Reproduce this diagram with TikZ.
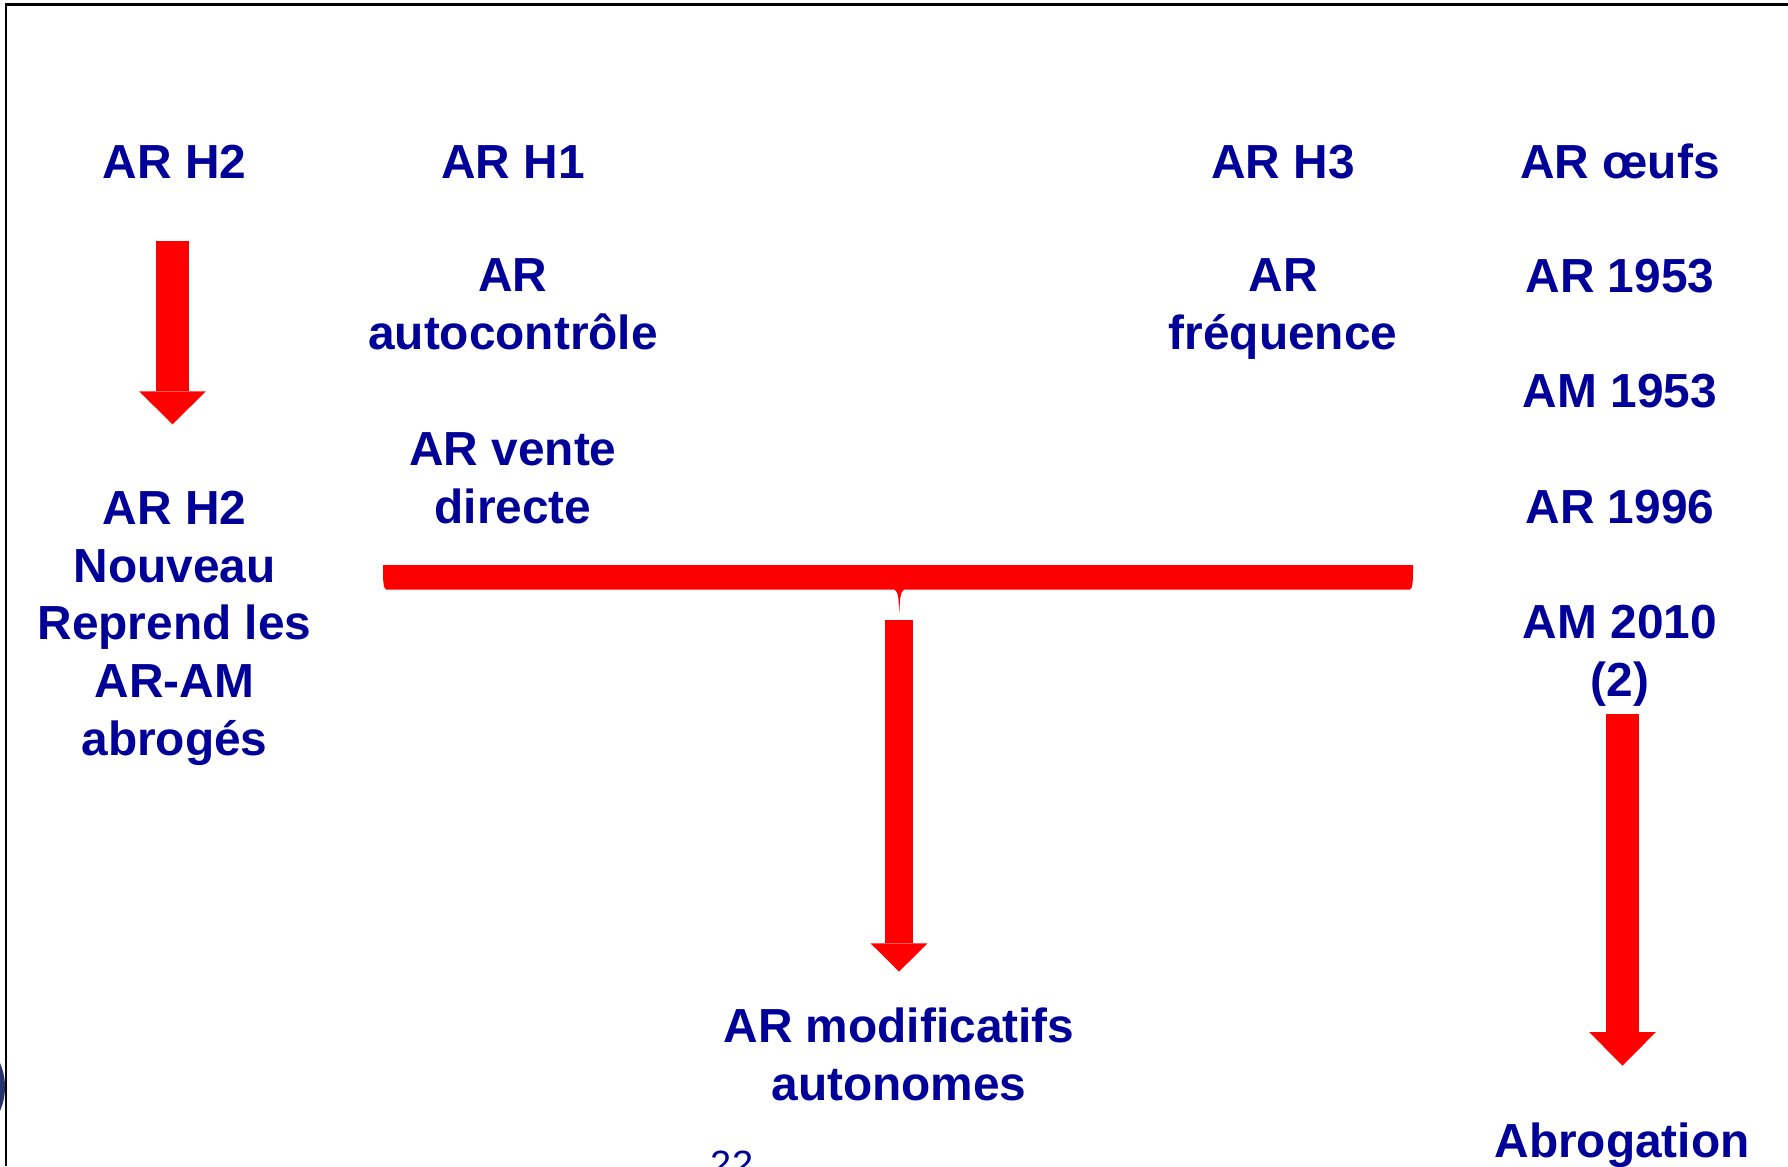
\documentclass[tikz,border=0pt]{standalone}
\usepackage{fontspec}
\setmainfont{Liberation Sans}
\usetikzlibrary{arrows.meta}
\definecolor{arblue}{RGB}{0,0,153}
\definecolor{arred}{RGB}{255,0,0}
\definecolor{logoblue}{RGB}{38,50,110}
\tikzset{lbl/.style = {text=arblue, font=\fontsize{13.6pt}{16.4pt}\selectfont\bfseries, align=center, inner sep=0pt, anchor=base}}
\tikzset{bigarrow/.style = {draw=arred, line width=0.33cm, -{Triangle[width=0.667cm, length=0.33cm, line width=0pt]}}}

\begin{document}
\begin{tikzpicture}[x=0.01cm, y=-0.01cm]
\useasboundingbox (0,0) rectangle (1788,1166);
\draw [line width=0.025cm] (6,1166) -- (6,4.5) -- (1788,4.5);
\begin{scope}
\clip (0,1000) rectangle (5,1166);
\fill [logoblue] (-55,1087) circle (60);
\draw [white, line width=0.02cm] (-55,1087) circle (47);
\end{scope}
% multi-line nodes sit on their last line
\node [lbl] (h2) at (174.5,178) {AR H2};
\node [lbl] (h1) at (513,178) {AR H1};
\node [lbl] (h3) at (1283,178) {AR H3};
\node [lbl] (oeufs) at (1620,178) {AR œufs};
\node [lbl] (autoc) at (513,349) {AR\\autocontrôle};
\node [lbl] (freq) at (1283,349) {AR\\fréquence};
\node [lbl] (ar53) at (1620,292) {AR 1953};
\node [lbl] (am53) at (1620,407) {AM 1953};
\node [lbl] (vente) at (513,523) {AR vente\\directe};
\node [lbl] (ar96) at (1620,523) {AR 1996};
\node [lbl] (am2010) at (1620,696) {AM 2010\\(2)};
\node [lbl] (newh2) at (174.5,755) {AR H2\\Nouveau\\Reprend les\\AR-AM\\abrogés};
\node [lbl] (modif) at (899,1100) {AR modificatifs\\autonomes};
\node [lbl] (abrog) at (1622,1157) {Abrogation};
\node [text=arblue, font=\fontsize{10.8pt}{13pt}\selectfont, inner sep=0pt, anchor=base] (page) at (732,1177) {22};
% brace over H1 and H3
\fill [arred] (383,565) -- (1413,565) .. controls (1413,580) and (1413,588) .. (1410,589.5) -- (904,589.5)
  .. controls (900,592) and (900,600) .. (899.3,613) .. controls (898.6,600) and (898.6,592) .. (894.6,589.5)
  -- (386,589.5) .. controls (383,588) and (383,580) .. (383,565) -- cycle;
\coordinate (h2out) at (172.5,240.7);
\coordinate (h2in) at (172.5,424.3);
\coordinate (braceout) at (899,620.3);
\coordinate (modifin) at (899,971.7);
\coordinate (oeufsout) at (1622.5,714);
\coordinate (abrogin) at (1622.5,1065.7);
\draw [bigarrow] (h2out) -- (h2in);
\draw [bigarrow, line width=0.28cm, -{Triangle[width=0.567cm, length=0.283cm, line width=0pt]}] (braceout) -- (modifin);
\draw [bigarrow, -{Triangle[width=0.667cm, length=0.337cm, line width=0pt]}] (oeufsout) -- (abrogin);
\end{tikzpicture}
\end{document}
